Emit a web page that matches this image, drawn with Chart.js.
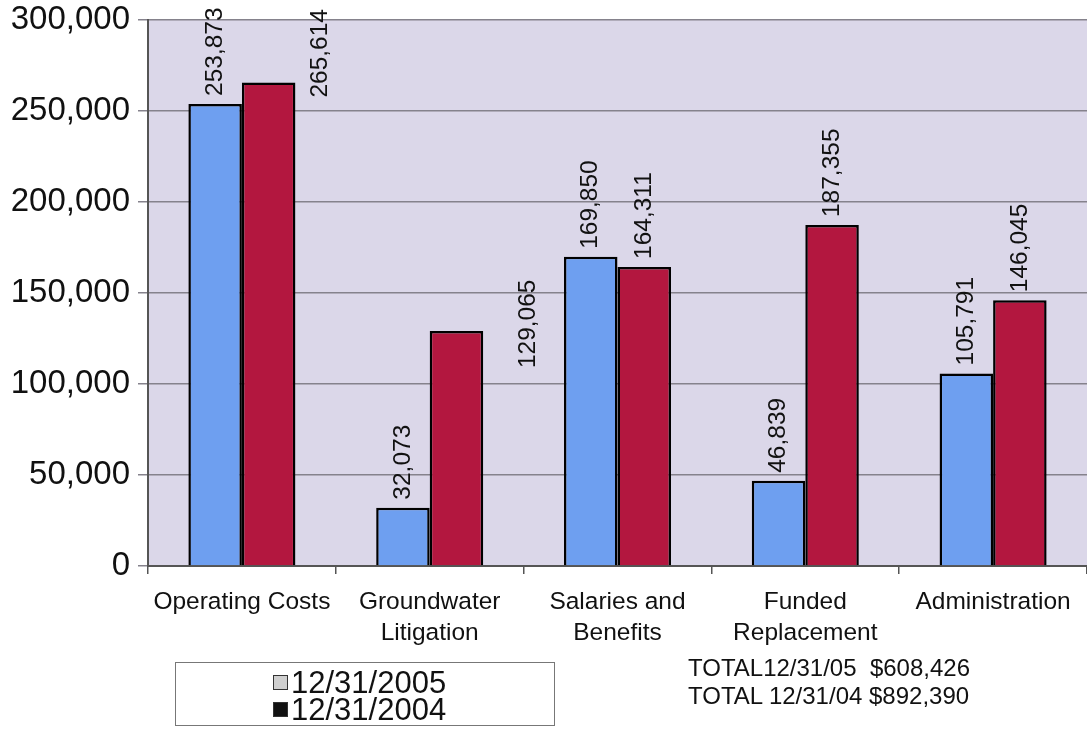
<!DOCTYPE html>
<html>
<head>
<meta charset="utf-8">
<script src="https://cdn.jsdelivr.net/npm/chart.js@4.4.1/dist/chart.umd.min.js"></script>
<style>
    body { margin: 0; background: #fff; font-family: "Liberation Sans", Arial, sans-serif; }
    #wrap { position: relative; width: 1087px; height: 730px; overflow: hidden; }
    #legend-box {
        position: absolute; left: 175px; top: 662px; width: 380px; height: 64px;
        border: 1px solid #777; background: #fff; box-sizing: border-box;
        padding-top: 6px; padding-left: 97px;
        font-size: 31px; line-height: 27px; color: #111;
    }
    .item { display: flex; align-items: center; }
    .swatch { width: 15px; height: 15px; margin-right: 3px; box-sizing: border-box; }
    #totals {
        position: absolute; left: 688px; top: 654px;
        font-size: 24px; line-height: 28px; color: #111; white-space: pre;
    }
</style>
</head>
<body>
<div id="wrap">
    <canvas id="expenses-chart"></canvas>
    <div id="legend-box"></div>
    <div id="totals"></div>
</div>
<script>
const categories = [
    ['Operating Costs'],
    ['Groundwater', 'Litigation'],
    ['Salaries and', 'Benefits'],
    ['Funded', 'Replacement'],
    ['Administration']
];
const seriesNames = ['12/31/2005', '12/31/2004'];
const totalNames = ['TOTAL12/31/05  ', 'TOTAL 12/31/04 '];
const values2005 = [253873, 32073, 169850, 46839, 105791];
const values2004 = [265614, 129065, 164311, 187355, 146045];
const yTicks = [0, 50000, 100000, 150000, 200000, 250000, 300000];

const FONT = '"Liberation Sans", Arial, sans-serif';
const fmt = v => v.toLocaleString('en-US');

// label nudges (px) for the hand-placed labels in the original
const labelShift = [
    [[0, 0], [0, 0], [0, 0], [0, 0], [0, 0]],
    [[52, 23], [72, 45], [0, 0], [0, 0], [0, 0]]
];

const barLabels = {
    id: 'barLabels',
    afterDatasetsDraw(chart) {
        const c = chart.ctx;
        c.save();
        c.font = '24.5px ' + FONT;
        c.fillStyle = '#111';
        c.textAlign = 'left';
        c.textBaseline = 'middle';
        chart.data.datasets.forEach((ds, di) => {
            chart.getDatasetMeta(di).data.forEach((bar, i) => {
                const s = labelShift[di][i];
                c.save();
                c.translate(bar.x + s[0], bar.y - 8 + s[1]);
                c.rotate(-Math.PI / 2);
                c.fillText(fmt(ds.data[i]), 0, 0);
                c.restore();
            });
        });
        c.restore();
    }
};

const plotBg = {
    id: 'plotBg',
    beforeDraw(chart) {
        const a = chart.chartArea;
        chart.ctx.save();
        chart.ctx.fillStyle = '#dbd7e9';
        chart.ctx.fillRect(a.left, a.top, a.right - a.left, a.bottom - a.top);
        chart.ctx.restore();
    }
};

const ctx = document.getElementById('expenses-chart').getContext('2d');
const chart = new Chart(ctx, {
    type: 'bar',
    data: {
        labels: categories,
        datasets: [{
            label: seriesNames[0],
            data: values2005,
            backgroundColor: '#6e9ff0',
            borderColor: '#000',
            borderWidth: 2.5,
            categoryPercentage: 0.57,
            barPercentage: 1.0
        }, {
            label: seriesNames[1],
            data: values2004,
            backgroundColor: '#b3173f',
            borderColor: '#000',
            borderWidth: 2.5,
            categoryPercentage: 0.57,
            barPercentage: 1.0
        }]
    },
    options: {
        responsive: true,
        maintainAspectRatio: false,
        animation: false,
        layout: { padding: { top: 20, right: 0, left: 0, bottom: 0 } },
        plugins: {
            legend: { display: false },
            tooltip: { enabled: false }
        },
        scales: {
            x: {
                grid: { drawOnChartArea: false, drawTicks: true, tickLength: 8, color: '#555', lineWidth: 1.5 },
                border: { display: true, color: '#555', width: 2 },
                ticks: {
                    color: '#111',
                    padding: 13,
                    maxRotation: 0,
                    autoSkip: false,
                    font: { family: FONT, size: 24.5, lineHeight: 1.25 }
                },
                afterFit(scale) { scale.height = 164; }
            },
            y: {
                min: 0,
                max: 300000,
                afterBuildTicks(scale) { scale.ticks = yTicks.map(v => ({ value: v })); },
                grid: { color: '#85828c', lineWidth: 1.5, tickLength: 10 },
                border: { display: true, color: '#555', width: 2 },
                ticks: {
                    color: '#111',
                    padding: 8,
                    font: { family: FONT, size: 33 },
                    callback: v => fmt(v)
                },
                afterFit(scale) {
                    scale.width = 148;
                    scale.paddingTop = 0;
                    scale.paddingBottom = 0;
                }
            }
        }
    },
    plugins: [plotBg, barLabels]
});

// legend box and totals
const swatches = ['#cfcfcf', '#111'];
document.getElementById('legend-box').innerHTML = seriesNames.map((n, i) =>
    '<div class="item"><span class="swatch" style="background:' + swatches[i] +
    ';border:1px solid #333"></span>' + n + '</div>').join('');

const sum = arr => arr.reduce((a, b) => a + b, 0);
document.getElementById('totals').textContent =
    totalNames[0] + '$' + fmt(sum(values2005)) + '\n' +
    totalNames[1] + '$' + fmt(sum(values2004));
</script>
</body>
</html>
